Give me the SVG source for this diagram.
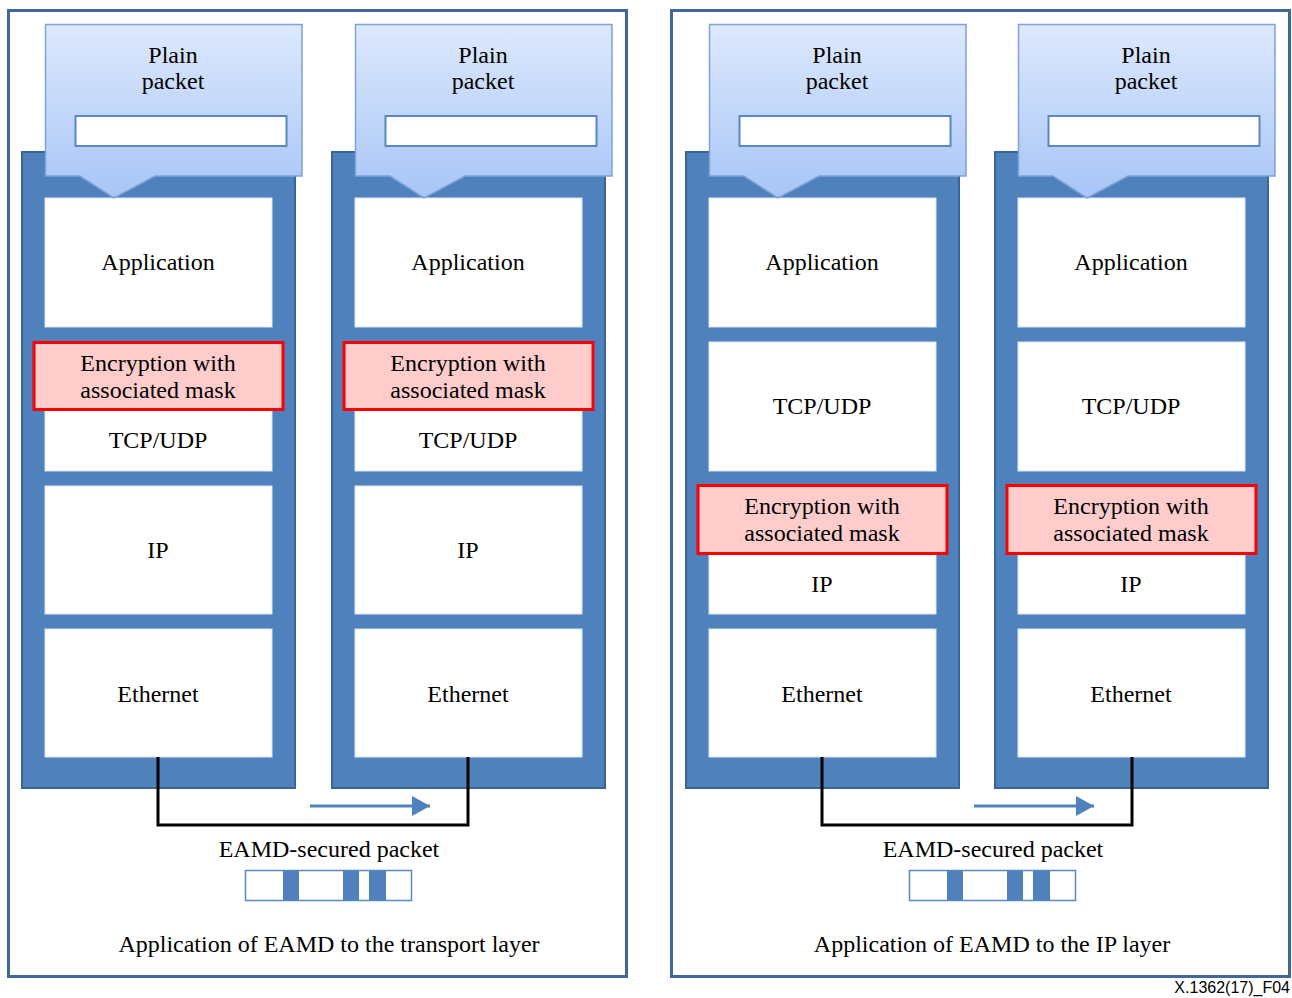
<svg xmlns="http://www.w3.org/2000/svg" width="1292" height="998" viewBox="0 0 1292 998">
  <defs>
    <linearGradient id="callGrad" x1="0" y1="0" x2="0" y2="1">
      <stop offset="0" stop-color="#DDE9FD"/>
      <stop offset="1" stop-color="#A7C5F6"/>
    </linearGradient>
    <marker id="blueHead" viewBox="0 0 18 20" refX="18" refY="10" markerWidth="18" markerHeight="20" markerUnits="userSpaceOnUse" orient="auto">
      <path d="M0,0 L18,10 L0,20 z" fill="#4F81BD"/>
    </marker>
    <!-- one protocol stack column (blue frame, plain-packet callout, white layer boxes) -->
    <g id="stackBase">
      <rect x="22" y="152" width="273" height="636" fill="#4F81BD" stroke="#3B6597" stroke-width="2"/>
      <rect x="45" y="198" width="227" height="129" fill="#FFFFFF" stroke="#DCE6F2" stroke-width="1"/>
      <rect x="45" y="342" width="227" height="129" fill="#FFFFFF" stroke="#DCE6F2" stroke-width="1"/>
      <rect x="45" y="486" width="227" height="128" fill="#FFFFFF" stroke="#DCE6F2" stroke-width="1"/>
      <rect x="45" y="629" width="227" height="128" fill="#FFFFFF" stroke="#DCE6F2" stroke-width="1"/>
      <polygon points="45.5,24.5 302,24.5 302,176 155,176 114,198 80,176 45.5,176" fill="url(#callGrad)" stroke="#7EA3D6" stroke-width="1.5"/>
      <rect x="75.5" y="116" width="211" height="30" fill="#FFFFFF" stroke="#5A88C2" stroke-width="2"/>
      <text class="lbl" x="173" y="63">Plain</text>
      <text class="lbl" x="173" y="89">packet</text>
    </g>
    <g id="packetBar">
      <rect x="245.5" y="870.5" width="166" height="30" fill="#FFFFFF" stroke="#5A88C2" stroke-width="1.5"/>
      <rect x="283" y="871" width="16" height="29" fill="#4F81BD"/>
      <rect x="343" y="871" width="16" height="29" fill="#4F81BD"/>
      <rect x="369" y="871" width="17" height="29" fill="#4F81BD"/>
    </g>
  </defs>
  <style>
    .lbl { font-family: "Liberation Serif", "Times New Roman", serif; font-size: 24px; fill: #000000; text-anchor: middle; }
    .cap { font-family: "Liberation Serif", "Times New Roman", serif; font-size: 24px; fill: #000000; text-anchor: middle; }
    .enc { fill: #FFCCCC; stroke: #FF0000; stroke-width: 3; }
    .frame { fill: #FFFFFF; stroke: #41679A; stroke-width: 3; }
    .link { fill: none; stroke: #000000; stroke-width: 3; }
    .flow { fill: none; stroke: #4F81BD; stroke-width: 3; }
    .tag { font-family: "Liberation Sans", Arial, sans-serif; font-size: 16px; fill: #000000; text-anchor: end; }
  </style>

  <rect width="1292" height="998" fill="#FFFFFF"/>

  <!-- outer panels -->
  <g id="panel-transport">
    <rect class="frame" x="8.5" y="10.5" width="618" height="966"/>
  </g>
  <g id="panel-ip">
    <rect class="frame" x="671.5" y="10.5" width="618" height="966"/>
  </g>

  <!-- transport-layer variant: encryption sits above TCP/UDP -->
  <g id="stack-t1">
    <use href="#stackBase"/>
    <text class="lbl" x="158" y="270">Application</text>
    <rect class="enc" x="34" y="342.5" width="249" height="67"/>
    <text class="lbl" x="158" y="371">Encryption with</text>
    <text class="lbl" x="158" y="398">associated mask</text>
    <text class="lbl" x="158" y="448">TCP/UDP</text>
    <text class="lbl" x="158" y="558">IP</text>
    <text class="lbl" x="158" y="702">Ethernet</text>
  </g>
  <g id="stack-t2" transform="translate(310,0)">
    <use href="#stackBase"/>
    <text class="lbl" x="158" y="270">Application</text>
    <rect class="enc" x="34" y="342.5" width="249" height="67"/>
    <text class="lbl" x="158" y="371">Encryption with</text>
    <text class="lbl" x="158" y="398">associated mask</text>
    <text class="lbl" x="158" y="448">TCP/UDP</text>
    <text class="lbl" x="158" y="558">IP</text>
    <text class="lbl" x="158" y="702">Ethernet</text>
  </g>

  <!-- IP-layer variant: encryption sits above IP -->
  <g id="stack-i1" transform="translate(664,0)">
    <use href="#stackBase"/>
    <text class="lbl" x="158" y="270">Application</text>
    <text class="lbl" x="158" y="414">TCP/UDP</text>
    <rect class="enc" x="34" y="485.5" width="249" height="68"/>
    <text class="lbl" x="158" y="514">Encryption with</text>
    <text class="lbl" x="158" y="541">associated mask</text>
    <text class="lbl" x="158" y="592">IP</text>
    <text class="lbl" x="158" y="702">Ethernet</text>
  </g>
  <g id="stack-i2" transform="translate(973,0)">
    <use href="#stackBase"/>
    <text class="lbl" x="158" y="270">Application</text>
    <text class="lbl" x="158" y="414">TCP/UDP</text>
    <rect class="enc" x="34" y="485.5" width="249" height="68"/>
    <text class="lbl" x="158" y="514">Encryption with</text>
    <text class="lbl" x="158" y="541">associated mask</text>
    <text class="lbl" x="158" y="592">IP</text>
    <text class="lbl" x="158" y="702">Ethernet</text>
  </g>

  <!-- links between the Ethernet layers and flow direction -->
  <g id="connectors">
    <polyline class="link" points="158,757 158,825 468,825 468,757"/>
    <line class="flow" x1="310" y1="806" x2="430" y2="806" marker-end="url(#blueHead)"/>
    <polyline class="link" points="822,757 822,825 1132,825 1132,757"/>
    <line class="flow" x1="974" y1="806" x2="1094" y2="806" marker-end="url(#blueHead)"/>
  </g>

  <!-- secured packets and captions -->
  <g id="packet-transport">
    <text class="cap" x="329" y="857">EAMD-secured packet</text>
    <use href="#packetBar"/>
  </g>
  <g id="packet-ip" transform="translate(664,0)">
    <text class="cap" x="329" y="857">EAMD-secured packet</text>
    <use href="#packetBar"/>
  </g>
  <g id="caption-transport">
    <text class="cap" x="329" y="952">Application of EAMD to the transport layer</text>
  </g>
  <g id="caption-ip">
    <text class="cap" x="992" y="952">Application of EAMD to the IP layer</text>
  </g>
  <text class="tag" x="1290" y="993">X.1362(17)_F04</text>
</svg>
